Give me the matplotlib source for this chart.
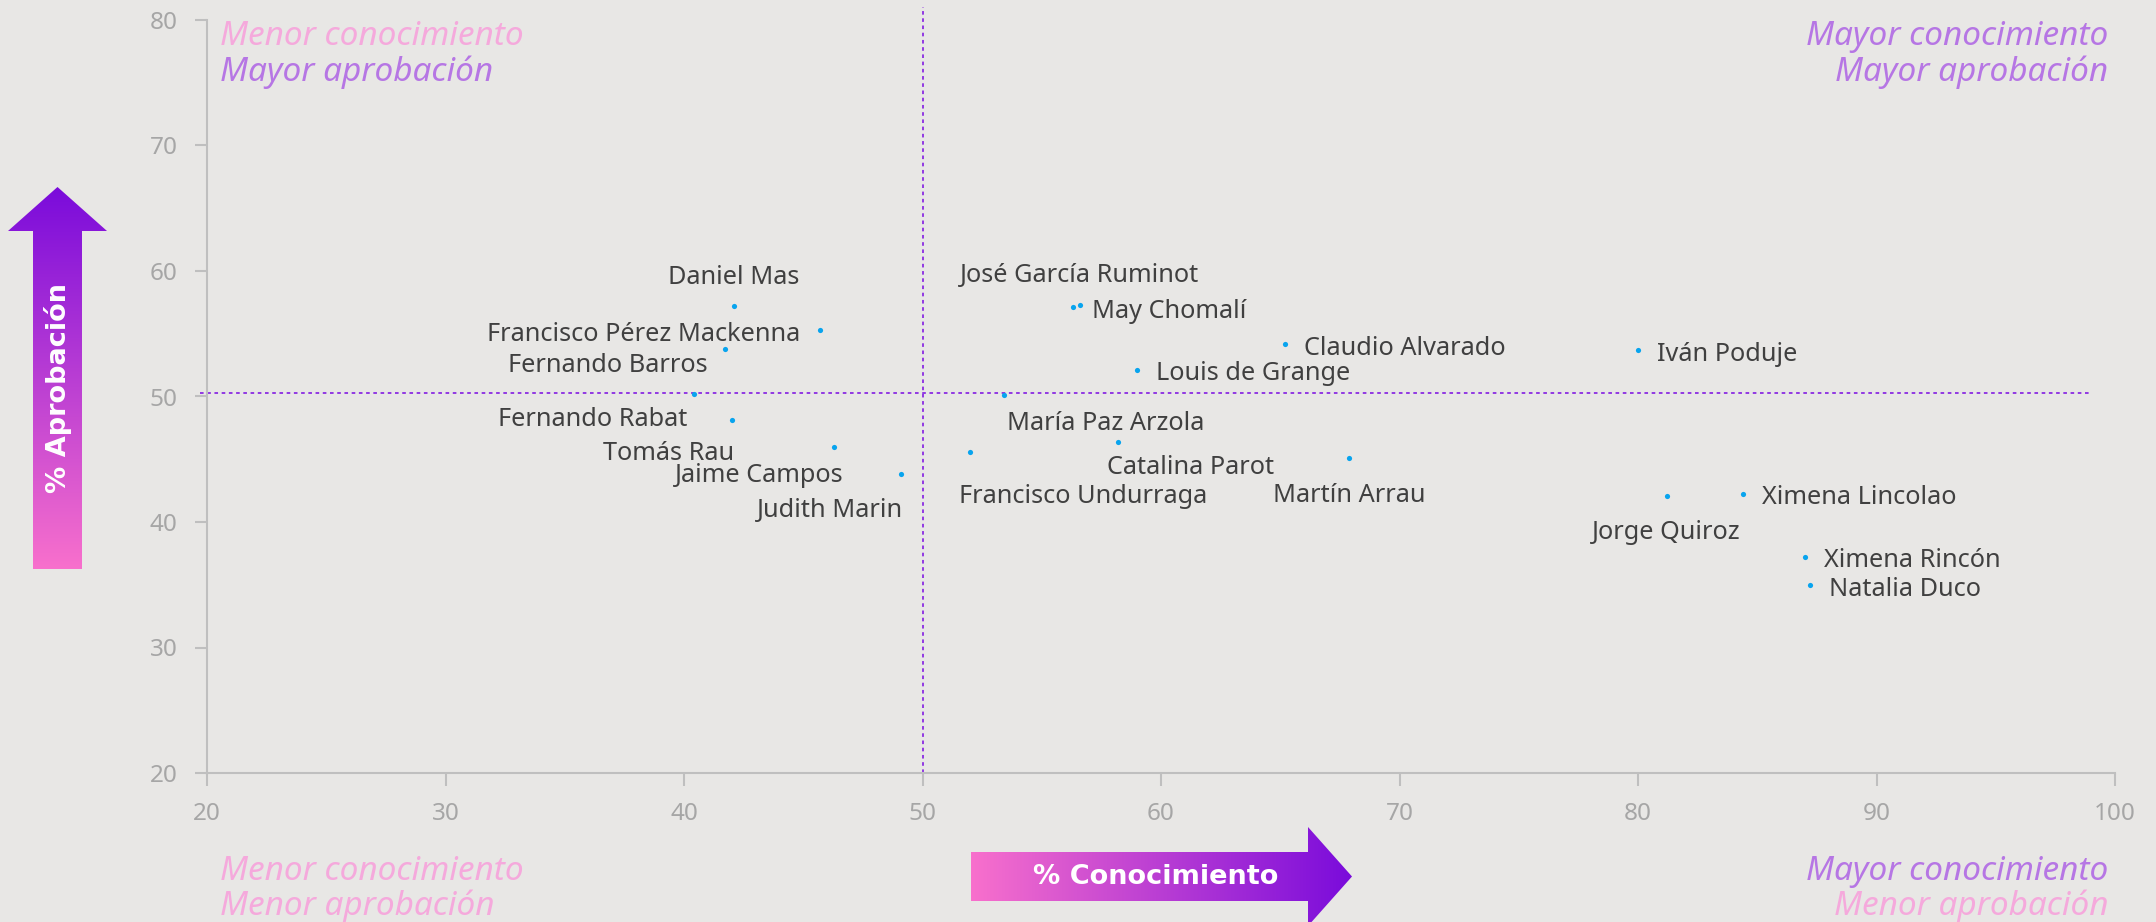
import numpy as np
import matplotlib.pyplot as plt
from matplotlib.colors import LinearSegmentedColormap
from matplotlib.patches import Polygon

# datos: % conocimiento vs % aprobación
nombres = ["Daniel Mas", "Francisco Pérez Mackenna", "Fernando Barros",
           "Fernando Rabat", "Tomás Rau", "Jaime Campos", "Judith Marin",
           "José García Ruminot", "May Chomalí", "Claudio Alvarado",
           "Louis de Grange", "María Paz Arzola", "Catalina Parot",
           "Francisco Undurraga", "Martín Arrau", "Iván Poduje",
           "Ximena Lincolao", "Jorge Quiroz", "Ximena Rincón", "Natalia Duco"]
conocimiento = [42.1, 45.7, 41.7, 40.4, 42.0, 46.3, 49.1,
                56.6, 56.3, 65.2, 59.0, 53.4, 58.2, 52.0, 67.9,
                80.0, 84.4, 81.2, 87.0, 87.2]
aprobacion = [57.2, 55.3, 53.8, 50.2, 48.1, 46.0, 43.8,
              57.3, 57.1, 54.2, 52.1, 50.1, 46.4, 45.6, 45.1,
              53.7, 42.2, 42.1, 37.2, 35.0]

xticks = [20, 30, 40, 50, 60, 70, 80, 90, 100]
yticks = [20, 30, 40, 50, 60, 70, 80]
corte_x = 50
corte_y = 50.25

# posicion de etiquetas (offset en pixeles, alineacion)
etiquetas = {
    "Daniel Mas": (0, 22, "center"),
    "Francisco Pérez Mackenna": (-20, -11, "right"),
    "Fernando Barros": (-17, -23, "right"),
    "Fernando Rabat": (-6, -32, "right"),
    "Tomás Rau": (2, -40, "right"),
    "Jaime Campos": (9, -35, "right"),
    "Judith Marin": (2, -43, "right"),
    "José García Ruminot": (0, 23, "center"),
    "May Chomalí": (19, -11, "left"),
    "Claudio Alvarado": (19, -11, "left"),
    "Louis de Grange": (19, -10, "left"),
    "María Paz Arzola": (3, -35, "left"),
    "Catalina Parot": (-11, -32, "left"),
    "Francisco Undurraga": (-11, -51, "left"),
    "Martín Arrau": (0, -44, "center"),
    "Iván Poduje": (19, -11, "left"),
    "Ximena Lincolao": (19, -10, "left"),
    "Jorge Quiroz": (0, -43, "center"),
    "Ximena Rincón": (19, -10, "left"),
    "Natalia Duco": (19, -11, "left"),
}

fondo = "#E8E7E5"
rosa = "#F5A9DC"
morado = "#B676E4"
plt.rcParams['font.family'] = ['Noto Sans', 'DejaVu Sans']

fig = plt.figure(figsize=(21.56, 9.22), dpi=100, facecolor=fondo)
ax = fig.add_axes([207/2156, 1-773/922, (2115-207)/2156, (773-20)/922])
ax.set_facecolor(fondo)

ax.scatter(conocimiento, aprobacion, s=14, color="#08A4EE", zorder=3, linewidths=0)
for n, x, y in zip(nombres, conocimiento, aprobacion):
    dx, dy, ha = etiquetas[n]
    ax.annotate(n, (x, y), xytext=(dx, dy), textcoords="offset pixels",
                ha=ha, va="baseline", fontsize=18.2, color="#404040")

ax.plot([corte_x, corte_x], [20, 81], ls=(0, (2, 2)), lw=1.3, color="#8A2BE2",
        clip_on=False, zorder=2)
ax.plot([19.7, 99], [corte_y, corte_y], ls=(0, (2, 2)), lw=1.3, color="#8A2BE2",
        clip_on=False, zorder=2)

ax.set_xlim(20, 100)
ax.set_ylim(20, 80)
ax.set_xticks(xticks)
ax.set_yticks(yticks)
for s in ["top", "right"]:
    ax.spines[s].set_visible(False)
for s in ["left", "bottom"]:
    ax.spines[s].set_color("#BFBFBF")
    ax.spines[s].set_linewidth(1.5)
ax.tick_params(direction="out", length=9, width=1.5, color="#BFBFBF",
               labelcolor="#A6A6A6", labelsize=17.5)
ax.tick_params(axis="x", pad=12)
ax.tick_params(axis="y", pad=12)

# capa decorativa en pixeles
deco = fig.add_axes([0, 0, 1, 1])
deco.set_xlim(0, 2156)
deco.set_ylim(922, 0)
deco.axis("off")
deco.patch.set_visible(False)

cmap = LinearSegmentedColormap.from_list("grad", ["#F870CC", "#7A0BDB"])

# flecha vertical
pts_v = [(33, 569), (33, 231), (8, 231), (57.5, 187), (107, 231), (82, 231), (82, 569)]
poly = Polygon(pts_v, closed=True, facecolor="none", edgecolor="none")
deco.add_patch(poly)
grad = np.linspace(0, 1, 256).reshape(-1, 1)
im = deco.imshow(grad, cmap=cmap, extent=(8, 107, 569, 187), origin="lower",
                 aspect="auto")
im.set_clip_path(poly)
deco.text(57.5, 388, "% Aprobación", rotation=90, ha="center", va="center",
          color="white", fontsize=19.5, fontweight="bold", family="DejaVu Sans")

# flecha horizontal
pts_h = [(971, 852), (1308, 852), (1308, 827), (1352, 876.5), (1308, 926),
         (1308, 901), (971, 901)]
poly2 = Polygon(pts_h, closed=True, facecolor="none", edgecolor="none")
deco.add_patch(poly2)
grad2 = np.linspace(0, 1, 256).reshape(1, -1)
im2 = deco.imshow(grad2, cmap=cmap, extent=(971, 1352, 926, 827), aspect="auto")
im2.set_clip_path(poly2)
deco.text(1156, 877, "% Conocimiento", ha="center", va="center",
          color="white", fontsize=19.5, fontweight="bold", family="DejaVu Sans")
deco.set_xlim(0, 2156)
deco.set_ylim(922, 0)

# textos de cuadrantes
kw = dict(fontsize=24, style="italic", va="baseline")
deco.text(220, 45, "Menor conocimiento", color=rosa, ha="left", **kw)
deco.text(220, 81, "Mayor aprobación", color=morado, ha="left", **kw)
deco.text(2108, 45, "Mayor conocimiento", color=morado, ha="right", **kw)
deco.text(2108, 81, "Mayor aprobación", color=morado, ha="right", **kw)
deco.text(220, 880, "Menor conocimiento", color=rosa, ha="left", **kw)
deco.text(220, 915, "Menor aprobación", color=rosa, ha="left", **kw)
deco.text(2108, 880, "Mayor conocimiento", color=morado, ha="right", **kw)
deco.text(2108, 915, "Menor aprobación", color=rosa, ha="right", **kw)

fig.savefig("out.png", dpi=100, facecolor=fondo)
